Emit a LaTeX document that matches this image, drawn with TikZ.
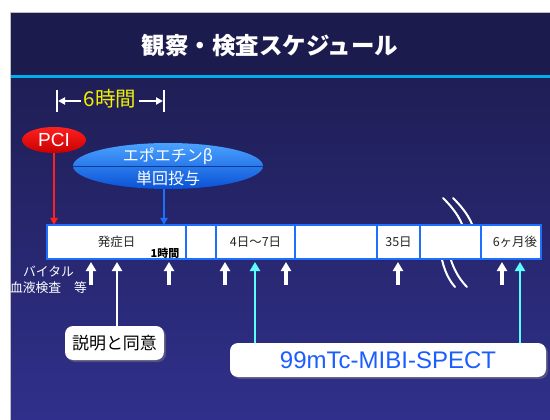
\documentclass[tikz,border=0pt]{standalone}
\usepackage{fontspec}
\setmainfont{Liberation Sans}
\newfontfamily\jp{Noto Sans CJK JP}
\usepackage{tikz}
\usetikzlibrary{arrows.meta, shapes.geometric, shadows}

\definecolor{SlideNavy}{HTML}{1C1B4D}
\definecolor{SlideTop}{HTML}{1F1E55}
\definecolor{SlideBottom}{HTML}{30308C}
\definecolor{RuleBlue}{HTML}{00AEEF}
\definecolor{BoxBlue}{HTML}{1E6EFF}
\definecolor{PciRed}{HTML}{FF2020}
\definecolor{PciDark}{HTML}{C80000}
\definecolor{EpoLight}{HTML}{4AA2FF}
\definecolor{EpoDark}{HTML}{0A52D6}
\definecolor{EpoLine}{HTML}{0A3C9C}
\definecolor{ScanCyan}{HTML}{5CFCFF}
\definecolor{SpectBlue}{HTML}{1A5EFF}
\definecolor{SpanYellow}{HTML}{F2F200}

\begin{document}
\begin{tikzpicture}[x=1pt, y=-1pt,
  stage/.style={rectangle, draw=BoxBlue, line width=2pt, fill=white,
    minimum height=34pt, inner sep=0pt, outer sep=0pt, anchor=west,
    text=black!85, font=\jp\fontsize{12.5}{15}\selectfont},
  %
  pci/.style={ellipse, inner sep=0pt, minimum width=64pt, minimum height=26pt,
    top color=PciRed, bottom color=PciDark, text=white,
    font=\fontsize{19}{22}\selectfont},
  %
  drug/.style={ellipse, inner sep=0pt, minimum width=190pt, minimum height=46pt,
    top color=EpoLight, bottom color=EpoDark},
  %
  drugtext/.style={text=white, inner sep=0pt, font=\jp\fontsize{16}{18}\selectfont},
  %
  card/.style={rectangle, rounded corners=8pt, fill=white, minimum height=34pt,
    drop shadow={shadow xshift=2pt, shadow yshift=-2pt, opacity=.45}},
  %
  check/.style={->, white, line width=3.5pt,
    >={Triangle[width=10pt, length=9pt]}, shorten >=3pt},
  %
  scan/.style={->, line width=2.5pt, >={Triangle[width=10pt, length=9pt]}},
  %
  dose/.style={->, line width=2pt, >={Triangle[width=7pt, length=7pt]}},
  %
  tick/.style={white, line width=2pt},
  %
  gap/.style={white, line width=2pt, line cap=round}
  ]

  \useasboundingbox (0,0) rectangle (550,420);

  %%%%%%%%%%%%%%%%%%%%%%%%%%%%%%% slide
  \fill [white] (0,0) rectangle (550,420);
  \fill [SlideNavy] (10,12) rectangle (550,76);
  \shade [top color=SlideTop, bottom color=SlideBottom] (10,78) rectangle (550,420);
  \fill [RuleBlue] (10,75) rectangle (550,78.5);
  \draw [black!25, line width=.8pt] (10,420) -- (10,12) -- (550,12);

  \node [text=white, font=\jp\bfseries\fontsize{23.5}{26}\selectfont] (title)
    at (270,46) {観察・検査スケジュール};

  %%%%%%%%%%%%%%%%%%%%%%%%%%%%%%% break marks (behind the boxes)
  \draw [gap] (443,198) .. controls (455,210) and (462,220) .. (466,236);
  \draw [gap] (453,198) .. controls (465,210) and (472,220) .. (476,236);
  \draw [gap] (440,248) .. controls (442,265) and (447,278) .. (455,287);
  \draw [gap] (448,248) .. controls (451,265) and (458,278) .. (467,287);

  %%%%%%%%%%%%%%%%%%%%%%%%%%%%%%% time line
  \begin{scope}
    \node [stage, minimum width=139pt] (onset) at (47,242) {発症日};
    \node [stage, minimum width=30pt] (hour) at (onset.east) {};
    \node [stage, minimum width=79pt] (week) at (hour.east) {4日～7日};
    \node [stage, minimum width=82pt] (wait) at (week.east) {};
    \node [stage, minimum width=43pt] (day35) at (wait.east) {35日};
    \node [stage, minimum width=61pt] (skip) at (day35.east) {};
    \node [stage, minimum width=60pt] (month6) at (skip.east) {\hspace{8pt}6ヶ月後};
    \node [text=black, inner sep=0pt, font=\jp\bfseries\fontsize{11}{12}\selectfont]
      (hourtag) at (165,253) {1時間};
  \end{scope}

  %%%%%%%%%%%%%%%%%%%%%%%%%%%%%%% treatment
  \node [pci] (pci) at (54,140) {PCI};
  \node [drug] (epo) at (168,166) {};
  \draw [EpoLine, line width=.8pt] (epo.west) -- (epo.east);
  \node [drugtext] (eponame) at (168,156) {エポエチンβ};
  \node [drugtext] (epodose) at (168,178) {単回投与};

  \coordinate (spanL) at (57,101);
  \coordinate (spanR) at (164,101);
  \node [text=SpanYellow, inner sep=3pt, font=\jp\fontsize{20.5}{22}\selectfont]
    (span) at (110,99) {6時間};
  \draw [tick] ([yshift=11pt]spanL) -- ([yshift=-11pt]spanL);
  \draw [tick] ([yshift=11pt]spanR) -- ([yshift=-11pt]spanR);
  \draw [dose, white] (span.west |- spanL) -- ([xshift=1pt]spanL);
  \draw [dose, white] (span.east |- spanR) -- ([xshift=-1pt]spanR);

  \coordinate (given) at (164,225);
  \draw [dose, PciRed] (pci.south) -- (pci.south |- onset.north);
  \draw [dose, BoxBlue] (epo.south -| given) -- (given);

  %%%%%%%%%%%%%%%%%%%%%%%%%%%%%%% checks
  \node [text=white, align=center, inner sep=0pt,
    font=\jp\fontsize{12.8}{16}\selectfont] (vitals) at (48.5,280)
    {バイタル\\血液検査　等};

  \foreach \x/\n in {91/a, 169/b, 225/c, 286/d, 398/e, 502/f} {
    \coordinate (vital\n) at (\x,259);
    \draw [check] ([yshift=-26pt]vital\n) -- (vital\n);
  }

  \node [card, minimum width=99pt, text=black,
    font=\jp\fontsize{17}{20}\selectfont] (consent) at (114.5,343) {説明と同意};
  \coordinate (told) at (117,259);
  \draw [check, line width=2.5pt] (consent.north -| told) -- (told);

  \node [card, minimum width=316pt, text=SpectBlue,
    font=\fontsize{24}{28}\selectfont] (spect) at (388,360) {99mTc-MIBI-SPECT};
  \coordinate (scanA) at (255,262);
  \coordinate (scanB) at (520,262);
  \draw [scan, ScanCyan] (spect.north -| scanA) -- (scanA);
  \draw [scan, ScanCyan] (spect.north -| scanB) -- (scanB);

\end{tikzpicture}
\end{document}
